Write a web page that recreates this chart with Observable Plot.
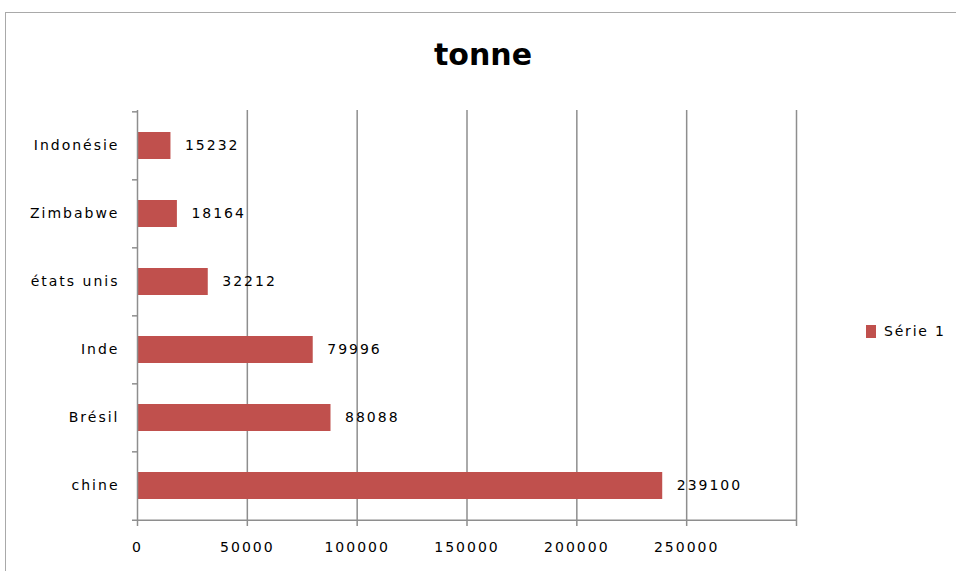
<!DOCTYPE html>
<html>
<head>
<meta charset="utf-8">
<script src="https://cdn.jsdelivr.net/npm/d3@7"></script>
<script src="https://cdn.jsdelivr.net/npm/@observablehq/plot@0.6"></script>
<style>
  body { margin: 0; background: #fff; }
  #chart { position: relative; width: 956px; height: 571px; overflow: hidden; font-family: "DejaVu Sans", sans-serif; }
  #border { position: absolute; left: 5px; top: 12px; width: 1000px; height: 600px;
            border-left: 1.5px solid #a9a9a9; border-top: 1.5px solid #a9a9a9; }
  #title { position: absolute; left: 0; top: 35px; width: 966px; text-align: center;
           font-weight: bold; font-size: 30px; line-height: 40px; color: #000; }
  #legend { position: absolute; left: 866px; top: 323px; display: flex; align-items: center;
            font-size: 14px; letter-spacing: 1.8px; color: #000; }
  #legend .sw { width: 10px; height: 13px; background: #C0504D; margin-right: 8px; }
  #plot { position: absolute; left: 0; top: 0; }
</style>
</head>
<body>
<div id="chart">
  <div id="border"></div>
  <div id="plot"></div>
  <div id="title"></div>
  <div id="legend"><span class="sw"></span><span class="lbl"></span></div>
</div>
<script>
// Production par pays (tonnes)
const titre = "tonne";
const serie = "Série 1";
const pays = ["Indonésie", "Zimbabwe", "états unis", "Inde", "Brésil", "chine"];
const tonnes = [15232, 18164, 32212, 79996, 88088, 239100];
const xTicks = [0, 50000, 100000, 150000, 200000, 250000, 300000];
const xTickLabels = ["0", "50000", "100000", "150000", "200000", "250000", ""];

const rows = pays.map((p, i) => ({pays: p, tonne: tonnes[i]}));

const W = 956, H = 571;
const mTop = 110, mBottom = 51, mLeft = 137, mRight = 160;
const step = (H - mTop - mBottom) / pays.length;
const gris = "#8e8e8e";
const rouge = "#C0504D";

const chart = Plot.plot({
  width: W,
  height: H,
  marginTop: mTop,
  marginBottom: mBottom,
  marginLeft: mLeft,
  marginRight: mRight,
  style: {fontFamily: "'DejaVu Sans', sans-serif", fontSize: "14px", letterSpacing: "2px", color: "#000", background: "transparent"},
  x: {domain: [xTicks[0], xTicks[xTicks.length - 1]]},
  y: {domain: pays, paddingInner: 0.605, paddingOuter: 0.3025},
  marks: [
    // vertical gridlines
    Plot.gridX(xTicks.slice(1), {stroke: gris, strokeOpacity: 1, strokeWidth: 1.5}),
    // bars
    Plot.barX(rows, {x: "tonne", y: "pays", fill: rouge}),
    // value axis line (left)
    Plot.ruleX([xTicks[0]], {stroke: gris, strokeWidth: 1.5}),
    // category boundary ticks
    Plot.ruleY(pays, {dy: -step / 2, x1: 0, x2: 0, insetLeft: -5, stroke: gris, strokeWidth: 1.5}),
    // bottom axis line
    Plot.ruleY([pays[pays.length - 1]], {dy: step / 2, x1: xTicks[0], x2: xTicks[xTicks.length - 1], insetLeft: -5, stroke: gris, strokeWidth: 1.5}),
    // x ticks
    Plot.axisX(xTicks, {anchor: "bottom", tickSize: 6, text: null, stroke: gris, strokeWidth: 1.5, label: null}),
    // x labels
    Plot.axisX(xTicks, {anchor: "bottom", tickSize: 0, tickPadding: 22, tickFormat: d => xTickLabels[xTicks.indexOf(d)], label: null}),
    // category labels
    Plot.axisY({anchor: "left", tickSize: 0, tickPadding: 18, label: null}),
    // value labels
    Plot.text(rows, {x: "tonne", y: "pays", text: d => String(d.tonne), textAnchor: "start", dx: 14, fill: "#000"})
  ]
});

document.getElementById("plot").appendChild(chart);
document.getElementById("title").textContent = titre;
document.querySelector("#legend .lbl").textContent = serie;
</script>
</body>
</html>
